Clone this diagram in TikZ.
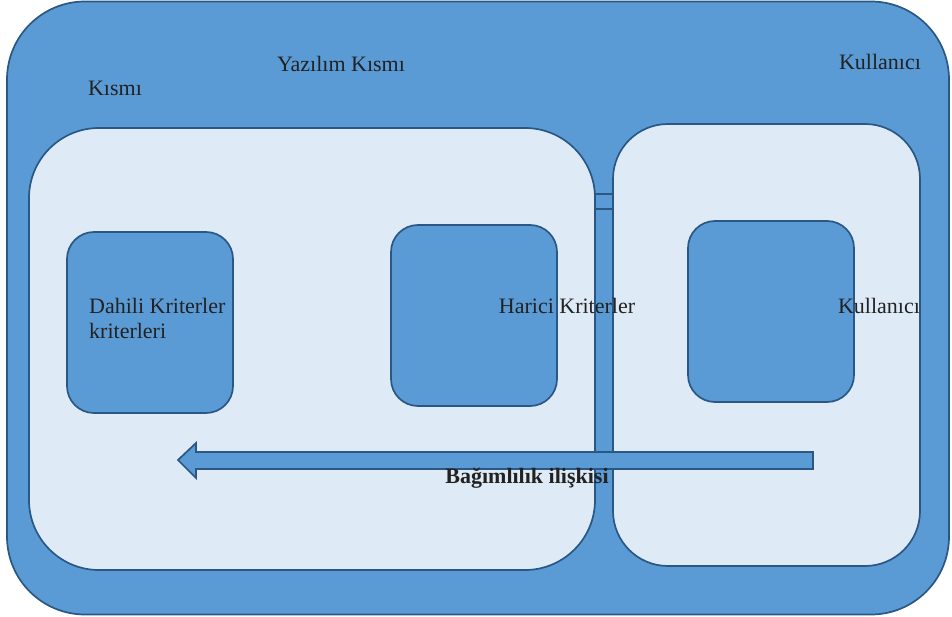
\documentclass[tikz,border=0pt]{standalone}
\usepackage{fontspec}
\setmainfont{Liberation Serif}
\definecolor{boxblue}{HTML}{5B9BD5}
\definecolor{boxline}{HTML}{2A5784}
\definecolor{boxlight}{HTML}{DEEAF5}
\definecolor{inktext}{HTML}{222222}
\tikzset{
  panel/.style={draw=boxline, line width=1.7pt, inner sep=0pt, outer sep=0pt, anchor=north west},
  outerpanel/.style={panel, fill=boxblue, rounded corners=78pt},
  innerpanel/.style={panel, fill=boxlight},
  item/.style={panel, fill=boxblue, rounded corners=27pt, minimum width=166pt, minimum height=181pt},
  lbl/.style={font=\fontsize{22pt}{25pt}\selectfont, text=inktext, inner sep=0pt, anchor=base},
}
\begin{document}
\begin{tikzpicture}[x=1pt, y=-1pt]
\useasboundingbox (0,0) rectangle (952,617);

% outer container
\node[outerpanel, minimum width=942pt, minimum height=613pt] (outer) at (7,1.5) {};

% the two regions
\node[innerpanel, rounded corners=70pt, minimum width=566pt, minimum height=442pt] (soft) at (29,128) {};
\node[innerpanel, rounded corners=55pt, minimum width=307pt, minimum height=442pt] (user) at (613,124) {};

% small link piece in the gap between the regions
\node[panel, fill=boxblue, minimum width=18pt, minimum height=15pt] (link) at (595,194) {};

% criteria boxes
\node[item] (dahili) at (67,232) {};
\node[item] (harici) at (391,225) {};
\node[item] (kullanici) at (688,221) {};

% dependency arrow (right to left)
\coordinate (tip) at (178,460);
\coordinate (tail) at (813,460);
\draw[boxline, line width=1.7pt, fill=boxblue, line join=miter]
  (tip) -- (196,443) -- (196,452) -- (tail |- 0,452) -- (tail |- 0,469)
  -- (196,469) -- (196,478) -- cycle;

% labels
\node[lbl] (tSoft) at (341,72) {Yazılım Kısmı};
\node[lbl] (tKismi) at (115,96) {Kısmı};
\node[lbl] (tUser) at (880,70) {Kullanıcı};
\node[lbl, anchor=base west] (tDahili) at (89,313) {Dahili Kriterler};
\node[lbl, anchor=base west] (tDahili2) at (89,338) {kriterleri};
\node[lbl] (tHarici) at (567,313) {Harici Kriterler};
\node[lbl] (tKull) at (879,313) {Kullanıcı};
\node[lbl, font=\fontsize{22pt}{25pt}\selectfont\bfseries] (tDep) at (527,483) {Bağımlılık ilişkisi};
\end{tikzpicture}
\end{document}
